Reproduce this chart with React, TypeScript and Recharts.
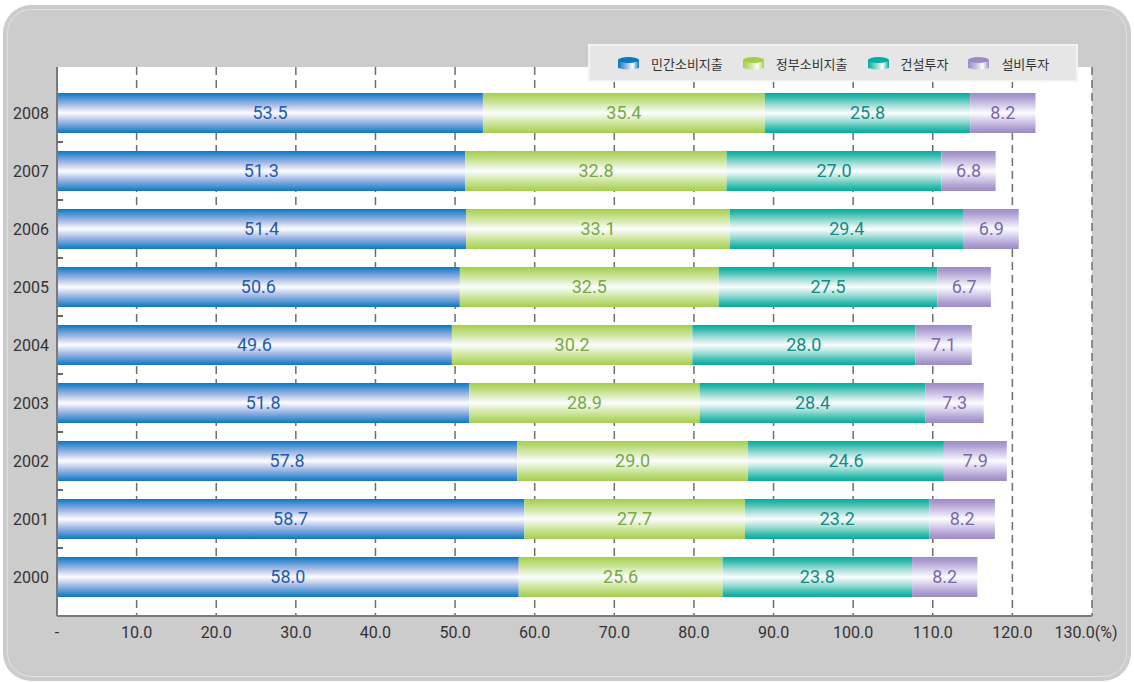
import { BarChart, Bar, XAxis, YAxis, CartesianGrid, LabelList } from 'recharts';

const years = ['2008', '2007', '2006', '2005', '2004', '2003', '2002', '2001', '2000'];
const privateConsumption = [53.5, 51.3, 51.4, 50.6, 49.6, 51.8, 57.8, 58.7, 58.0];
const govConsumption = [35.4, 32.8, 33.1, 32.5, 30.2, 28.9, 29.0, 27.7, 25.6];
const construction = [25.8, 27.0, 29.4, 27.5, 28.0, 28.4, 24.6, 23.2, 23.8];
const equipment = [8.2, 6.8, 6.9, 6.7, 7.1, 7.3, 7.9, 8.2, 8.2];

const xTicks = [0, 10, 20, 30, 40, 50, 60, 70, 80, 90, 100, 110, 120, 130];

const series = [
  { key: 'priv', name: '민간소비지출', values: privateConsumption, edge: '#0a77bf', soft: '#3f8ecf', mid: '#a9bbe6', label: '#1f5cab' },
  { key: 'gov', name: '정부소비지출', values: govConsumption, edge: '#a3ce4c', soft: '#b5d76c', mid: '#d6eab0', label: '#78a942' },
  { key: 'cons', name: '건설투자', values: construction, edge: '#00ad9e', soft: '#2fb9ab', mid: '#9edcd5', label: '#128c83' },
  { key: 'equip', name: '설비투자', values: equipment, edge: '#9d8bc6', soft: '#ab9bcf', mid: '#d3cae9', label: '#7a69a6' },
];

const data = years.map((year, i) => {
  const row: Record<string, string | number> = { year };
  series.forEach((s) => {
    row[s.key] = s.values[i];
  });
  return row;
});

const W = 1134;
const H = 683;
const MARGIN = { top: 67, right: 42, bottom: 37, left: 0 };
const X_AXIS_H = 30;
const Y_AXIS_W = 57;
const Y_PAD = { top: 17, bottom: 10 };
const PLOT_H = H - MARGIN.top - MARGIN.bottom - X_AXIS_H;
const BAND = (PLOT_H - Y_PAD.top - Y_PAD.bottom) / years.length;

const BORDER = { stroke: '#7a7a7a', strokeWidth: 2 };
const NUM_FONT = 'Roboto, "DejaVu Sans", sans-serif';

const XTick = ({ x, y, payload }: { x?: number; y?: number; payload?: { value: number } }) => {
  const v = payload?.value ?? 0;
  let label = v === 0 ? '-' : v.toFixed(1);
  if (v === 130) label += '(%)';
  const shift = v === 130 ? -6 : 0;
  return (
    <text x={(x ?? 0) + shift} y={y} dy="0.71em" textAnchor="middle" fill="#333" fontSize={16} fontFamily={NUM_FONT}>
      {label}
    </text>
  );
};

// year label + small inward tick on the band boundary above it
const YTick = ({ x, y, payload, index }: { x?: number; y?: number; payload?: { value: string }; index?: number }) => {
  const yy = y ?? 0;
  const edgeY = yy - BAND / 2;
  return (
    <g>
      {index !== 0 && <line x1={Y_AXIS_W} x2={Y_AXIS_W + 6} y1={edgeY} y2={edgeY} stroke="#666" strokeWidth={2} />}
      <text x={x} y={yy} dy="0.355em" textAnchor="end" fill="#333" fontSize={16} fontFamily={NUM_FONT}>
        {payload?.value}
      </text>
    </g>
  );
};

function LegendIcon({ edge, mid }: { edge: string; mid: string }) {
  const id = `leg-${edge.slice(1)}`;
  return (
    <svg width="21" height="13" style={{ display: 'block', flexShrink: 0 }}>
      <defs>
        <linearGradient id={id} x1="0" y1="0" x2="1" y2="0">
          <stop offset="0%" stopColor={edge} />
          <stop offset="45%" stopColor={mid} />
          <stop offset="70%" stopColor="#ffffff" />
          <stop offset="100%" stopColor={edge} />
        </linearGradient>
      </defs>
      <path d="M0,3 L0,11 Q10.5,14 21,11 L21,3 Z" fill={`url(#${id})`} />
      <ellipse cx="10.5" cy="3" rx="10.5" ry="3" fill={edge} />
    </svg>
  );
}

export default function App() {
  return (
    <div style={{ position: 'absolute', left: 0, top: 0, width: W, height: H, background: '#fff', overflow: 'hidden' }}>
      <div style={{ position: 'absolute', left: 3, top: 5, width: 1128, height: 676, borderRadius: 28, background: '#cccccc' }} />
      <div
        style={{
          position: 'absolute',
          left: 7,
          top: 9,
          width: 1118,
          height: 666,
          borderRadius: 24,
          border: '1px solid #e2e2e2',
        }}
      />
      <div style={{ position: 'absolute', left: 0, top: 0 }}>
        <BarChart width={W} height={H} data={data} layout="vertical" margin={MARGIN} barSize={40}>
          <defs>
            {series.map((s) => (
              <linearGradient key={s.key} id={`g-${s.key}`} x1="0" y1="0" x2="0" y2="1">
                <stop offset="0%" stopColor={s.edge} />
                <stop offset="10%" stopColor={s.soft} />
                <stop offset="30%" stopColor={s.mid} />
                <stop offset="50%" stopColor="#fcfdff" />
                <stop offset="70%" stopColor={s.mid} />
                <stop offset="90%" stopColor={s.soft} />
                <stop offset="100%" stopColor={s.edge} />
              </linearGradient>
            ))}
          </defs>
          <CartesianGrid horizontal={false} fill="#fff" stroke="#6e6e6e" strokeWidth={1.5} strokeDasharray="8 5" />
          <XAxis
            type="number"
            domain={[0, 130]}
            ticks={xTicks}
            interval={0}
            allowDataOverflow
            height={X_AXIS_H}
            axisLine={BORDER}
            tickLine={false}
            tickSize={6}
            tickMargin={5}
            tick={<XTick />}
          />
          <XAxis
            xAxisId="top"
            orientation="top"
            type="number"
            domain={[0, 130]}
            height={0}
            tick={false}
            tickLine={false}
            axisLine={BORDER}
          />
          <YAxis
            type="category"
            dataKey="year"
            width={Y_AXIS_W}
            padding={Y_PAD}
            axisLine={BORDER}
            tickLine={false}
            tickSize={6}
            tickMargin={2}
            interval={0}
            tick={<YTick />}
          />
          <YAxis
            yAxisId="right"
            orientation="right"
            type="number"
            domain={[0, 9]}
            width={0}
            tick={false}
            tickLine={false}
            axisLine={BORDER}
          />
          {series.map((s) => (
            <Bar key={s.key} dataKey={s.key} name={s.name} stackId="a" fill={`url(#g-${s.key})`} isAnimationActive={false}>
              <LabelList
                dataKey={s.key}
                position="center"
                fill={s.label}
                fontSize={18}
                fontFamily={NUM_FONT}
                formatter={(v: unknown) => Number(v).toFixed(1)}
              />
            </Bar>
          ))}
        </BarChart>
      </div>
      <div
        style={{
          position: 'absolute',
          left: 588,
          top: 44,
          width: 490,
          height: 38,
          background: '#e6e6e6',
          border: '2px solid #f3f3f3',
          display: 'flex',
          alignItems: 'center',
          paddingLeft: 28,
          boxSizing: 'border-box',
          fontFamily: '"Noto Sans CJK KR", sans-serif',
          fontSize: 13,
          color: '#333',
          whiteSpace: 'nowrap',
        }}
      >
        {series.map((s) => (
          <div key={s.key} style={{ display: 'flex', alignItems: 'center', marginRight: 20, flexShrink: 0 }}>
            <LegendIcon edge={s.edge} mid={s.mid} />
            <span style={{ marginLeft: 12 }}>{s.name}</span>
          </div>
        ))}
      </div>
    </div>
  );
}
